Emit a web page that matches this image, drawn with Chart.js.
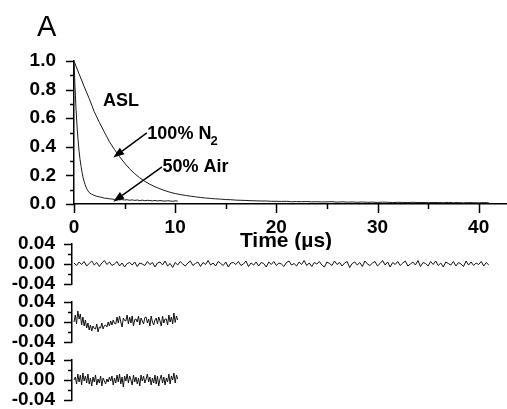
<!DOCTYPE html>
<html>
<head>
<meta charset="utf-8">
<script src="https://cdn.jsdelivr.net/npm/chart.js@4.4.0/dist/chart.umd.min.js"></script>
<style>
  html, body { margin: 0; padding: 0; background: #fff; }
  #wrap { position: relative; width: 507px; height: 409px; overflow: hidden; }
  #wrap canvas { position: absolute; left: 0; }
</style>
</head>
<body>
<div id="wrap">
  <canvas id="decaimento" width="507" height="250" style="top:0px"></canvas>
  <canvas id="residuo1" width="507" height="70" style="top:229px"></canvas>
  <canvas id="residuo2" width="507" height="70" style="top:287px"></canvas>
  <canvas id="residuo3" width="507" height="70" style="top:345px"></canvas>
</div>
<script>
// Decaimento normalizado (µs) - 100% N2
const tempoN2 = [
  0, 0.5, 1, 1.5, 2, 2.5, 3, 3.5, 4, 4.5,
  5, 5.5, 6, 6.5, 7, 7.5, 8, 8.5, 9, 9.5,
  10, 10.5, 11, 11.5, 12, 12.5, 13, 13.5, 14, 14.5,
  15, 15.5, 16, 16.5, 17, 17.5, 18, 18.5, 19, 19.5,
  20, 20.5, 21, 21.5, 22, 22.5, 23, 23.5, 24, 24.5,
  25, 25.5, 26, 26.5, 27, 27.5, 28, 28.5, 29, 29.5,
  30, 30.5, 31, 31.5, 32, 32.5, 33, 33.5, 34, 34.5,
  35, 35.5, 36, 36.5, 37, 37.5, 38, 38.5, 39, 39.5,
  40, 40.5, 41
];
const sinalN2 = [
  1.000, 0.910, 0.822, 0.738, 0.646, 0.572, 0.503, 0.436, 0.381, 0.331,
  0.286, 0.246, 0.212, 0.183, 0.158, 0.138, 0.121, 0.106, 0.093, 0.082,
  0.073, 0.066, 0.060, 0.055, 0.050, 0.046, 0.042, 0.039, 0.036, 0.034,
  0.031, 0.030, 0.027, 0.026, 0.025, 0.023, 0.022, 0.021, 0.021, 0.019,
  0.019, 0.018, 0.019, 0.016, 0.017, 0.016, 0.017, 0.015, 0.016, 0.014,
  0.015, 0.016, 0.013, 0.015, 0.013, 0.014, 0.012, 0.014, 0.012, 0.013,
  0.011, 0.013, 0.012, 0.010, 0.012, 0.011, 0.010, 0.012, 0.010, 0.011,
  0.009, 0.011, 0.010, 0.009, 0.011, 0.009, 0.010, 0.008, 0.010, 0.009,
  0.008, 0.010, 0.008
];

// Decaimento normalizado - 50% ar
const tempoAr = [
  0, 0.1, 0.2, 0.3, 0.4, 0.5, 0.6, 0.7, 0.8, 0.9, 1, 1.1, 1.2, 1.3, 1.4, 1.5,
  1.75, 2, 2.25, 2.5, 2.75, 3, 3.25, 3.5, 3.75, 4, 4.25, 4.5, 4.75, 5, 5.25, 5.5, 5.75,
  6, 6.25, 6.5, 6.75, 7, 7.25, 7.5, 7.75, 8, 8.25, 8.5, 8.75, 9, 9.25, 9.5, 9.75, 10, 10.25
];
const sinalAr = [
  1.000, 0.820, 0.665, 0.545, 0.450, 0.370, 0.310, 0.262, 0.220, 0.185, 0.158, 0.135, 0.117, 0.102, 0.090, 0.080,
  0.068, 0.060, 0.054, 0.050, 0.046, 0.041, 0.040, 0.036, 0.035, 0.032, 0.033, 0.029, 0.031, 0.028, 0.030, 0.026, 0.029,
  0.025, 0.028, 0.024, 0.027, 0.023, 0.026, 0.024, 0.022, 0.025, 0.021, 0.024, 0.022, 0.020, 0.023, 0.021, 0.019, 0.022, 0.020
];

// Resíduos do ajuste - 100% N2
const tempoRes1 = [
  0, 0.25, 0.5, 0.75, 1, 1.25, 1.5, 1.75, 2, 2.25, 2.5, 2.75, 3, 3.25, 3.5, 3.75, 4, 4.25, 4.5, 4.75,
  5, 5.25, 5.5, 5.75, 6, 6.25, 6.5, 6.75, 7, 7.25, 7.5, 7.75, 8, 8.25, 8.5, 8.75, 9, 9.25, 9.5, 9.75,
  10, 10.25, 10.5, 10.75, 11, 11.25, 11.5, 11.75, 12, 12.25, 12.5, 12.75, 13, 13.25, 13.5, 13.75, 14, 14.25, 14.5, 14.75,
  15, 15.25, 15.5, 15.75, 16, 16.25, 16.5, 16.75, 17, 17.25, 17.5, 17.75, 18, 18.25, 18.5, 18.75, 19, 19.25, 19.5, 19.75,
  20, 20.25, 20.5, 20.75, 21, 21.25, 21.5, 21.75, 22, 22.25, 22.5, 22.75, 23, 23.25, 23.5, 23.75, 24, 24.25, 24.5, 24.75,
  25, 25.25, 25.5, 25.75, 26, 26.25, 26.5, 26.75, 27, 27.25, 27.5, 27.75, 28, 28.25, 28.5, 28.75, 29, 29.25, 29.5, 29.75,
  30, 30.25, 30.5, 30.75, 31, 31.25, 31.5, 31.75, 32, 32.25, 32.5, 32.75, 33, 33.25, 33.5, 33.75, 34, 34.25, 34.5, 34.75,
  35, 35.25, 35.5, 35.75, 36, 36.25, 36.5, 36.75, 37, 37.25, 37.5, 37.75, 38, 38.25, 38.5, 38.75, 39, 39.25, 39.5, 39.75,
  40, 40.25, 40.5, 40.75, 41
];
const residuo1 = [
  0.002, -0.003, 0.004, -0.001, 0.005, -0.004, 0.001, 0.006, -0.002, 0.003, -0.005, 0.002, 0.007, -0.001, 0.004, -0.003, 0.000, 0.005, -0.004, 0.002,
  -0.006, 0.001, 0.003, -0.002, 0.004, -0.005, 0.002, 0.000, -0.003, 0.005, -0.001, 0.003, -0.006, 0.002, 0.004, -0.002, 0.006, -0.004, 0.001, -0.007,
  0.003, -0.002, 0.005, 0.000, -0.004, 0.002, 0.006, -0.003, 0.001, 0.004, -0.005, 0.003, -0.001, 0.007, -0.002, 0.002, -0.004, 0.005, 0.001, -0.003,
  0.004, -0.006, 0.002, 0.003, -0.001, 0.005, -0.003, 0.000, 0.006, -0.005, 0.002, -0.002, 0.004, -0.004, 0.003, 0.001, -0.006, 0.004, -0.001, 0.005,
  -0.003, 0.002, 0.000, -0.005, 0.003, 0.006, -0.002, 0.001, -0.004, 0.004, -0.001, 0.007, -0.003, 0.002, -0.005, 0.003, 0.000, 0.005, -0.002, -0.006,
  0.004, 0.001, -0.003, 0.006, -0.001, 0.003, -0.004, 0.002, 0.005, -0.007, 0.001, 0.004, -0.002, 0.003, -0.005, 0.006, 0.000, -0.003, 0.002, 0.005,
  -0.004, 0.001, 0.007, -0.002, 0.004, -0.006, 0.003, -0.001, 0.005, -0.003, 0.002, 0.006, -0.004, 0.000, 0.004, -0.002, 0.007, -0.005, 0.003, 0.001,
  -0.004, 0.005, -0.001, 0.006, -0.003, 0.002, -0.006, 0.004, 0.001, -0.002, 0.005, -0.004, 0.003, 0.000, -0.005, 0.006, -0.002, 0.004, -0.003, 0.002,
  -0.001, 0.005, -0.004, 0.003, -0.002
];

// Resíduos dos ajustes - 50% ar (mono e biexponencial)
const tempoRes2 = [
  0, 0.125, 0.25, 0.375, 0.5, 0.625, 0.75, 0.875,
  1, 1.125, 1.25, 1.375, 1.5, 1.625, 1.75, 1.875,
  2, 2.125, 2.25, 2.375, 2.5, 2.625, 2.75, 2.875,
  3, 3.125, 3.25, 3.375, 3.5, 3.625, 3.75, 3.875,
  4, 4.125, 4.25, 4.375, 4.5, 4.625, 4.75, 4.875,
  5, 5.125, 5.25, 5.375, 5.5, 5.625, 5.75, 5.875,
  6, 6.125, 6.25, 6.375, 6.5, 6.625, 6.75, 6.875,
  7, 7.125, 7.25, 7.375, 7.5, 7.625, 7.75, 7.875,
  8, 8.125, 8.25, 8.375, 8.5, 8.625, 8.75, 8.875,
  9, 9.125, 9.25, 9.375, 9.5, 9.625, 9.75, 9.875,
  10, 10.125, 10.25
];
const residuo2 = [
  0.000, 0.014, -0.004, 0.022, 0.006, 0.016, -0.006, 0.010, -0.008,
  0.004, -0.012, -0.002, -0.016, -0.006, -0.018, -0.008, -0.013,
  -0.014, -0.004, -0.020, -0.010, -0.012, -0.002, -0.014, -0.007,
  -0.006, -0.010, 0.000, -0.008, 0.002, -0.006, 0.004, -0.003,
  -0.004, 0.010, -0.002, 0.012, 0.000, -0.010, 0.008, 0.003,
  0.002, 0.014, -0.004, 0.010, -0.002, 0.012, -0.008, 0.005,
  0.006, 0.000, 0.012, -0.006, 0.008, 0.002, -0.004, 0.009,
  0.010, -0.002, 0.006, -0.008, 0.012, 0.000, -0.006, 0.004,
  0.008, -0.004, 0.010, 0.002, -0.008, 0.012, -0.002, 0.006,
  0.006, -0.006, 0.014, 0.000, 0.010, -0.004, 0.018, -0.001,
  0.012, 0.004
];
const residuo3 = [
  0.000, 0.006, -0.008, 0.012, -0.004, 0.010, -0.010, 0.014, -0.002,
  0.008, -0.006, 0.012, -0.008, 0.004, -0.012, 0.006, -0.004,
  0.010, -0.010, 0.002, -0.006, 0.008, -0.012, 0.004, -0.002,
  -0.008, 0.002, -0.004, 0.006, -0.002, 0.008, -0.010, 0.004,
  -0.006, 0.010, -0.004, 0.012, -0.008, 0.006, -0.014, 0.008,
  -0.002, 0.012, -0.006, 0.008, 0.000, -0.010, 0.010, -0.004,
  0.006, -0.008, 0.004, -0.012, 0.010, -0.002, 0.008, -0.006,
  0.002, 0.012, -0.004, 0.006, -0.010, 0.004, -0.006, 0.010,
  -0.008, 0.008, -0.012, 0.002, 0.010, -0.006, 0.006, -0.010,
  0.004, -0.004, 0.012, -0.008, 0.008, 0.000, 0.014, -0.006,
  0.010, 0.002
];

const fonte = "'Liberation Sans', Arial, Helvetica, sans-serif";
Chart.defaults.font.family = fonte;
Chart.defaults.color = '#000';

function pares(xs, ys) {
  return xs.map((t, i) => ({ x: t, y: ys[i] }));
}

function multiplo(v, passo) {
  const q = v / passo;
  return Math.abs(q - Math.round(q)) < 1e-6;
}

// Marcas de escala maiores e menores (o Chart.js só tem um comprimento)
const marcas = {
  id: 'marcas',
  afterDraw(chart, args, opts) {
    const ctx = chart.ctx;
    ctx.save();
    ctx.strokeStyle = '#000';
    ctx.lineWidth = 1.5;
    ['x', 'y'].forEach(id => {
      const cfg = opts[id];
      const s = chart.scales[id];
      if (!cfg || !s) return;
      s.ticks.forEach(t => {
        if (t.value < s.min - 1e-9 || t.value > s.max + 1e-9) return;
        const len = multiplo(t.value, cfg.major) ? cfg.longo : cfg.curto;
        const p = Math.round(s.getPixelForValue(t.value)) + 0.5;
        ctx.beginPath();
        if (id === 'x') {
          ctx.moveTo(p, s.top);
          ctx.lineTo(p, s.top + len);
        } else {
          ctx.moveTo(s.right, p);
          ctx.lineTo(s.right - len, p);
        }
        ctx.stroke();
      });
    });
    ctx.restore();
  }
};

function seta(ctx, x1, y1, x2, y2) {
  const ang = Math.atan2(y2 - y1, x2 - x1);
  const L = 11, W = 4;
  const bx = x2 - L * Math.cos(ang), by = y2 - L * Math.sin(ang);
  ctx.lineWidth = 1.5;
  ctx.beginPath();
  ctx.moveTo(x1, y1);
  ctx.lineTo(bx, by);
  ctx.stroke();
  ctx.beginPath();
  ctx.moveTo(x2, y2);
  ctx.lineTo(bx + W * Math.sin(ang), by - W * Math.cos(ang));
  ctx.lineTo(bx - W * Math.sin(ang), by + W * Math.cos(ang));
  ctx.closePath();
  ctx.fill();
}

// Textos e setas do painel principal
const anotacoes = {
  id: 'anotacoes',
  afterDraw(chart) {
    const { ctx, scales: { x, y } } = chart;
    const px = v => x.getPixelForValue(v);
    const py = v => y.getPixelForValue(v);
    ctx.save();
    ctx.fillStyle = '#000';
    ctx.strokeStyle = '#000';

    ctx.font = `29px ${fonte}`;
    ctx.textAlign = 'left';
    ctx.textBaseline = 'alphabetic';
    ctx.fillText('A', 37, 36);

    ctx.font = `bold 21px ${fonte}`;
    ctx.textAlign = 'center';
    ctx.textBaseline = 'middle';
    ctx.fillText('Time (µs)', 286, 241);

    ctx.textAlign = 'left';
    ctx.font = `bold 18px ${fonte}`;
    ctx.fillText('ASL', px(2.86), py(0.72));

    const xn = px(7.25), yn = py(0.49);
    ctx.fillText('100% N', xn, yn);
    const w = ctx.measureText('100% N').width;
    ctx.font = `bold 13px ${fonte}`;
    ctx.fillText('2', xn + w - 1, yn + 7);

    ctx.font = `bold 18px ${fonte}`;
    ctx.fillText('50% Air', px(8.75), py(0.262));

    seta(ctx, px(7.2), py(0.497), px(3.88), py(0.325));
    seta(ctx, px(8.7), py(0.259), px(3.88), py(0.016));
    ctx.restore();
  }
};

const linha = { borderColor: '#1a1a1a', borderWidth: 1, pointRadius: 0, tension: 0, clip: 4 };

new Chart(document.getElementById('decaimento'), {
  type: 'line',
  data: {
    datasets: [
      { label: '100% N2', data: pares(tempoN2, sinalN2), ...linha },
      { label: '50% Air', data: pares(tempoAr, sinalAr), ...linha }
    ]
  },
  options: {
    responsive: false,
    animation: false,
    layout: { padding: { top: 61, left: 0, right: 0, bottom: 0 } },
    plugins: {
      legend: { display: false },
      tooltip: { enabled: false },
      marcas: {
        x: { major: 10, longo: 9, curto: 5 },
        y: { major: 0.2, longo: 8, curto: 4 }
      }
    },
    scales: {
      x: {
        type: 'linear', min: 0, max: 42.8,
        grid: { display: false, drawTicks: false },
        border: { color: '#000', width: 1.5 },
        ticks: {
          stepSize: 5, includeBounds: false, autoSkip: false, maxRotation: 0, padding: 12,
          font: { size: 19, weight: 'bold' },
          callback: v => multiplo(v, 10) ? String(Math.round(v)) : ''
        },
        afterFit: s => { s.height = 46; }
      },
      y: {
        min: 0, max: 1,
        grid: { display: false, drawTicks: false },
        border: { color: '#000', width: 1.5 },
        ticks: {
          stepSize: 0.1, padding: 18, autoSkip: false,
          font: { size: 19, weight: 'bold' },
          callback: v => multiplo(v, 0.2) ? v.toFixed(1) : ''
        },
        afterFit: s => { s.width = 74; }
      }
    }
  },
  plugins: [marcas, anotacoes]
});

function graficoResiduo(id, tempos, valores) {
  return new Chart(document.getElementById(id), {
    type: 'line',
    data: { datasets: [{ data: pares(tempos, valores), ...linha, borderColor: '#111' }] },
    options: {
      responsive: false,
      animation: false,
      layout: { padding: { top: 15, left: 0, right: 0, bottom: 15 } },
      plugins: {
        legend: { display: false },
        tooltip: { enabled: false },
        marcas: { y: { major: 0.04, longo: 8, curto: 4 } }
      },
      scales: {
        x: { type: 'linear', min: -0.2, max: 42.8, display: false },
        y: {
          min: -0.04, max: 0.04,
          grid: { display: false, drawTicks: false },
          border: { color: '#000', width: 1.5 },
          ticks: {
            stepSize: 0.02, padding: 17, autoSkip: false,
            font: { size: 19, weight: 'bold' },
            callback: v => multiplo(v, 0.04) ? (Math.abs(v) < 1e-9 ? '0.00' : v.toFixed(2)) : ''
          },
          // o padding dos rótulos não deve encolher a área do gráfico
          afterFit: s => { s.width = 72; s.paddingTop = 0; s.paddingBottom = 0; }
        }
      }
    },
    plugins: [marcas]
  });
}

graficoResiduo('residuo1', tempoRes1, residuo1);
graficoResiduo('residuo2', tempoRes2, residuo2);
graficoResiduo('residuo3', tempoRes2, residuo3);
</script>
</body>
</html>
